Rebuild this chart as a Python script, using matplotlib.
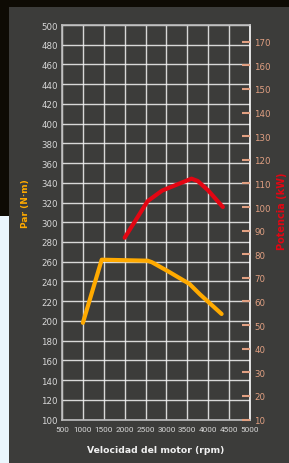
import matplotlib
matplotlib.use('Agg')
from matplotlib import pyplot as plt
from matplotlib.patches import Rectangle

# data
rpm_ticks = [500, 1000, 1500, 2000, 2500, 3000, 3500, 4000, 4500, 5000]
torque_ticks = list(range(100, 501, 20))
power_ticks = list(range(10, 171, 10))

torque_rpm = [1000, 1450, 2550, 2650, 3050, 3550, 3800, 4320]
torque_nm = [198, 262, 261, 259.5, 250, 237.5, 227, 207]

power_rpm = [2000, 2550, 2900, 3250, 3600, 3750, 4000, 4350]
power_kw = [87, 102.5, 107, 109.5, 112, 111, 107, 100]

bg = '#3c3c3a'
orange = '#ffaa00'
red = '#e30613'
salmon = '#e1a082'
light = '#d8d8d8'

fig = plt.figure(figsize=(2.89, 4.64), dpi=100)
fig.patch.set_facecolor(bg)

# outer strips around the panel
fig.patches.append(Rectangle((0, 1 - 8 / 464), 1, 8 / 464, transform=fig.transFigure,
                             facecolor='#0e0b04', edgecolor='none', zorder=-5))
fig.patches.append(Rectangle((0, (464 - 217) / 464), 9 / 289, 217 / 464, transform=fig.transFigure,
                             facecolor='#0e0b04', edgecolor='none', zorder=-5))
fig.patches.append(Rectangle((0, 0), 9 / 289, (464 - 217) / 464, transform=fig.transFigure,
                             facecolor='#eaf6fd', edgecolor='none', zorder=-5))

ax = fig.add_axes([62 / 289, (464 - 420.5) / 464, 188 / 289, 394.5 / 464])
ax.set_facecolor(bg)

ax.set_xlim(500, 5000)
ax.set_ylim(100, 500)
ax.set_xticks(rpm_ticks)
ax.set_yticks(torque_ticks)
ax.grid(True, color='#f4f4f4', linewidth=1.0, alpha=0.85)
ax.set_axisbelow(True)

for s in ['left', 'top', 'bottom']:
    ax.spines[s].set_color('#bdbdbd')
    ax.spines[s].set_linewidth(1.2)
ax.spines['right'].set_color('white')
ax.spines['right'].set_linewidth(1.2)

ax.tick_params(axis='both', length=0, colors=light, labelsize=6.2, pad=3)
ax.tick_params(axis='x', labelsize=5.9, pad=5)
for lab in ax.get_xticklabels():
    lab.set_fontfamily('Roboto')

ax.plot(torque_rpm, torque_nm, color=orange, linewidth=3, solid_joinstyle='round',
        solid_capstyle='round', zorder=3)

ax.set_ylabel('Par (N·m)', color=orange, fontsize=6.5, fontweight='bold')
ax.yaxis.set_label_coords(-0.17, 0.55)
ax.set_xlabel('Velocidad del motor (rpm)', color='#f0f0f0', fontsize=6.7, fontweight='bold',
              labelpad=9)

ax2 = ax.twinx()
ax2.set_ylim(10, 177.1)
ax2.set_yticks(power_ticks)
ax2.tick_params(axis='y', direction='in', length=6, width=1.5, color=salmon,
                labelcolor=salmon, labelsize=6.2, pad=3)
for s in ax2.spines.values():
    s.set_visible(False)
ax2.plot(power_rpm, power_kw, color=red, linewidth=3, solid_joinstyle='round',
         solid_capstyle='round', zorder=3)
ax2.set_ylabel('Potencia (kW)', color=red, fontsize=7, fontweight='bold')
ax2.yaxis.set_label_coords(1.145, 0.53)

fig.savefig('out.png', dpi=100, facecolor=fig.get_facecolor())
